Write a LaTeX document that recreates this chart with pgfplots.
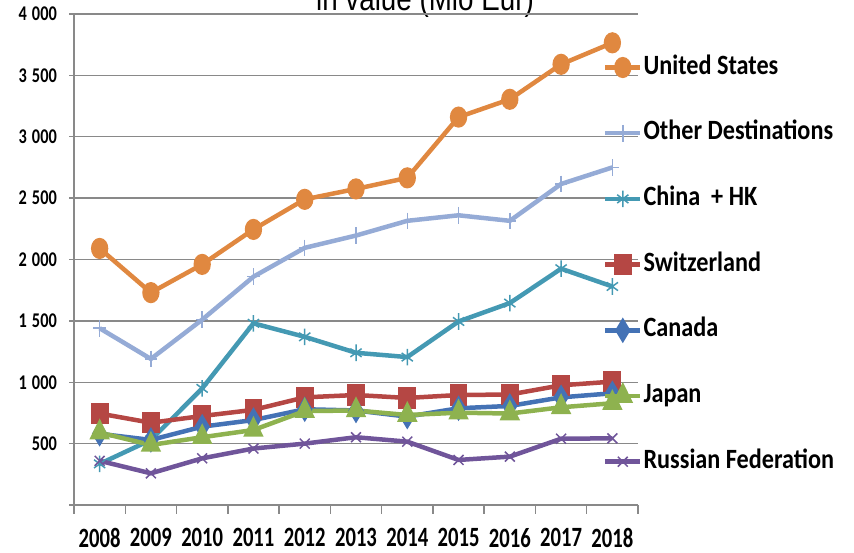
\documentclass[border=0pt]{standalone}
\usepackage{fontspec}
\usepackage{pgfplots}
\pgfplotsset{compat=1.18}
\setmainfont{Carlito}
\newfontfamily\xfont[FakeStretch=0.74]{Carlito}
\newfontfamily\yfont[FakeStretch=0.78]{Carlito}
\newfontfamily\legfont[FakeStretch=0.868]{Carlito}
\newfontfamily\titfont[FakeStretch=0.82]{Liberation Sans}
\definecolor{gridgray}{HTML}{898989}
\definecolor{cUS}{HTML}{E08840}
\definecolor{cOT}{HTML}{95ABD6}
\definecolor{cCN}{HTML}{4499B3}
\definecolor{cCH}{HTML}{B54744}
\definecolor{cCA}{HTML}{4472B5}
\definecolor{cJP}{HTML}{8EB24F}
\definecolor{cRU}{HTML}{70559A}
\begin{document}
\begin{tikzpicture}[x=1bp,y=1bp]
\clip (0,0) rectangle (854,553);
\path[use as bounding box] (0,0) rectangle (854,553);
\node[anchor=base, font=\titfont\fontsize{34}{34}\selectfont, inner sep=0] at (425,542) {in value (Mio Eur)};
\begin{axis}[
  at={(74bp,48bp)}, anchor=south west,
  scale only axis, width=564bp, height=491bp,
  xmin=-0.5, xmax=10.5, ymin=0, ymax=4000,
  axis x line*=bottom, axis y line*=left,
  axis line style={draw=gridgray, line width=1.4bp, -},
  ymajorgrids, grid style={gridgray, line width=1.4bp},
  xtick={0,...,10},
  xticklabels={2008,2009,2010,2011,2012,2013,2014,2015,2016,2017,2018},
  minor xtick={-0.5,0.5,...,10.5},
  major x tick style={draw=none},
  minor tick length=9bp, major tick length=5bp,
  tick align=outside,
  tick style={gridgray, line width=1.4bp},
  ytick={0,500,...,4000},
  yticklabels={,500,1\hspace{5bp}000,1\hspace{5bp}500,2\hspace{5bp}000,2\hspace{5bp}500,3\hspace{5bp}000,3\hspace{5bp}500,4\hspace{5bp}000},
  xticklabel style={font=\xfont\bfseries\fontsize{28}{28}\selectfont, inner sep=0pt, anchor=north, yshift=-18bp},
  yticklabel style={font=\yfont\bfseries\fontsize{21}{21}\selectfont, inner sep=0pt, anchor=east, xshift=-12bp},
  legend cell align=left,
  legend style={at={(0.938,0.9185)}, anchor=north west, draw=none, fill=none, inner sep=0pt, outer sep=0pt,
    row sep=34.7bp, column sep=0pt,
    nodes={font=\legfont\bfseries\fontsize{28}{28}\selectfont, text height=20bp, text depth=11bp, inner ysep=0pt, inner xsep=1bp}},
  legend image code/.code={\draw[#1, mark repeat=2, mark phase=2] plot coordinates {(0bp,2bp) (17.5bp,2bp) (35bp,2bp)};},
  every axis plot/.append style={line width=4.5bp},
]
\addplot[cUS, mark=*, mark size=8.3bp, mark options={solid, xscale=0.77}] coordinates {
(0,2090) (1,1730) (2,1960) (3,2245) (4,2490) (5,2575) (6,2665) (7,3160) (8,3305) (9,3590) (10,3765)};
\addlegendentry{United States}
\addplot[cOT, mark=+, mark size=8.3bp, mark options={solid, line width=1.5bp, xscale=0.75}] coordinates {
(0,1440) (1,1190) (2,1510) (3,1860) (4,2095) (5,2195) (6,2315) (7,2360) (8,2315) (9,2615) (10,2750)};
\addlegendentry{Other Destinations}
\addplot[cCN, mark=asterisk, mark size=8.3bp, mark options={solid, line width=1.5bp, xscale=0.78}] coordinates {
(0,335) (1,530) (2,950) (3,1480) (4,1370) (5,1240) (6,1205) (7,1495) (8,1645) (9,1925) (10,1780)};
\addlegendentry{China \ + HK}
\addplot[cCH, mark=square*, mark size=8.3bp, mark options={solid, xscale=0.8}] coordinates {
(0,745) (1,670) (2,725) (3,775) (4,877) (5,896) (6,872) (7,896) (8,900) (9,975) (10,1005)};
\addlegendentry{Switzerland}
\addplot[cCA, mark=diamond*, mark size=8.5bp, mark options={solid, xscale=0.8}] coordinates {
(0,580) (1,530) (2,638) (3,692) (4,780) (5,770) (6,720) (7,788) (8,807) (9,877) (10,910)};
\addlegendentry{Canada}
\addplot[cJP, mark=triangle*, mark size=9bp, mark options={solid, xscale=0.85}] coordinates {
(0,590) (1,489) (2,552) (3,611) (4,765) (5,770) (6,733) (7,752) (8,745) (9,796) (10,829)};
\addlegendentry{Japan}
\addplot[cRU, mark=x, mark size=7bp, mark options={solid, line width=1.5bp}] coordinates {
(0,360) (1,258) (2,380) (3,460) (4,500) (5,552) (6,516) (7,367) (8,394) (9,540) (10,543)};
\addlegendentry{Russian Federation}
\end{axis}
\end{tikzpicture}
\end{document}
